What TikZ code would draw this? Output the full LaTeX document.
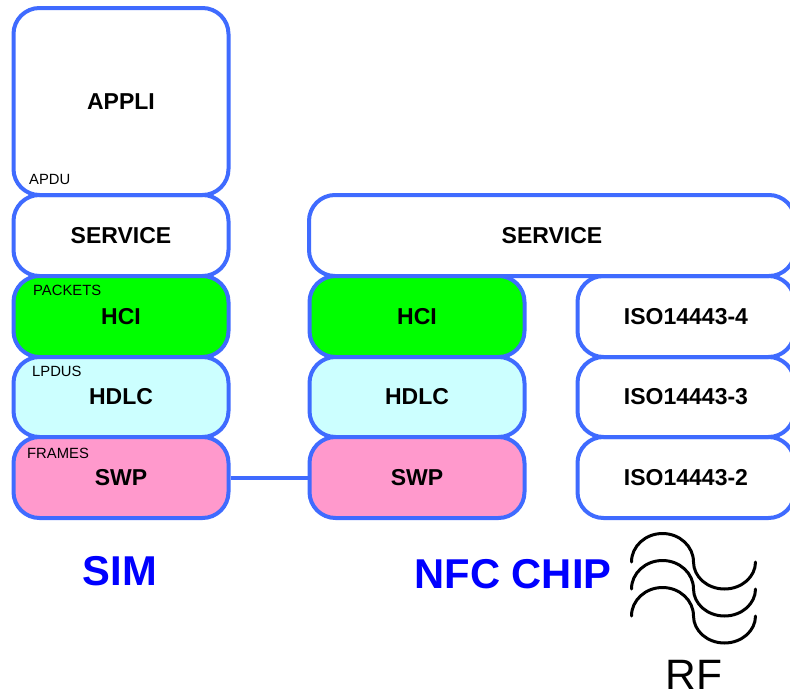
\documentclass[tikz,border=0pt]{standalone}
\usepackage{fontspec}
\setmainfont{Liberation Sans}
\usepackage{tikz}
\definecolor{boxblue}{HTML}{3F6BFF}
\definecolor{hcigreen}{HTML}{00FF00}
\definecolor{hdlccyan}{HTML}{CCFFFF}
\definecolor{swppink}{HTML}{FF99CC}
\tikzset{
 layer/.style={shape=rectangle,draw=boxblue,line width=4pt,rounded corners=26pt,align=center,
   font=\fontsize{23}{23}\selectfont\bfseries,inner sep=0pt},
 small/.style={shape=rectangle,inner sep=0pt,font=\fontsize{14.8}{14.8}\selectfont},
 big/.style={shape=rectangle,inner sep=0pt,text=blue,font=\fontsize{41.7}{41.7}\selectfont\bfseries}
}

\begin{document}
\begin{tikzpicture}[x=1pt,y=-1pt]
\useasboundingbox (0,0) rectangle (790,699);

%sim stack
\path (121,101.5) node[layer,name=appli,minimum width=215pt,minimum height=187pt] {APPLI};
\path (121,235.5) node[layer,name=servicesim,minimum width=215pt,minimum height=81pt] {SERVICE};
\path (121,316.5) node[layer,name=hcisim,fill=hcigreen,minimum width=215pt,minimum height=81pt] {HCI};
\path (121,397) node[layer,name=hdlcsim,fill=hdlccyan,minimum width=215pt,minimum height=80pt] {HDLC};
\path (121,477.5) node[layer,name=swpsim,fill=swppink,minimum width=215pt,minimum height=81pt] {SWP};

%chip stack
\path (552,235.5) node[layer,name=servicechip,minimum width=486pt,minimum height=81pt] {SERVICE};
\path (417,316.5) node[layer,name=hcichip,fill=hcigreen,minimum width=215pt,minimum height=81pt] {HCI};
\path (417,397) node[layer,name=hdlcchip,fill=hdlccyan,minimum width=215pt,minimum height=80pt] {HDLC};
\path (417,477.5) node[layer,name=swpchip,fill=swppink,minimum width=215pt,minimum height=81pt] {SWP};

%iso stack
\path (686,316.5) node[layer,name=iso4,minimum width=217pt,minimum height=81pt] {ISO14443-4};
\path (686,397) node[layer,name=iso3,minimum width=217pt,minimum height=80pt] {ISO14443-3};
\path (686,477.5) node[layer,name=iso2,minimum width=217pt,minimum height=81pt] {ISO14443-2};

\path[-,draw=boxblue,line width=4pt] (swpsim) edge (swpchip);

\path (29,179.5) node[small,anchor=west,name=apdu] {APDU};
\path (33,290.5) node[small,anchor=west,name=packets] {PACKETS};
\path (32,371.5) node[small,anchor=west,name=lpdus] {LPDUS};
\path (27,453.5) node[small,anchor=west,name=frames] {FRAMES};

\path (120,571.5) node[big,name=sim] {SIM};
\path (513,574.5) node[big,name=nfc] {NFC CHIP};
\path (694,675) node[shape=rectangle,inner sep=0pt,font=\fontsize{42.5}{42.5}\selectfont,name=rf] {RF};

%waves
\foreach \dy in {0,27,54}
  \draw[line width=3pt,line cap=round] (631.5,562+\dy) arc[start angle=180,end angle=360,x radius=31,y radius=28.5]
    arc[start angle=180,end angle=0,x radius=31,y radius=27];
\end{tikzpicture}
\end{document}
